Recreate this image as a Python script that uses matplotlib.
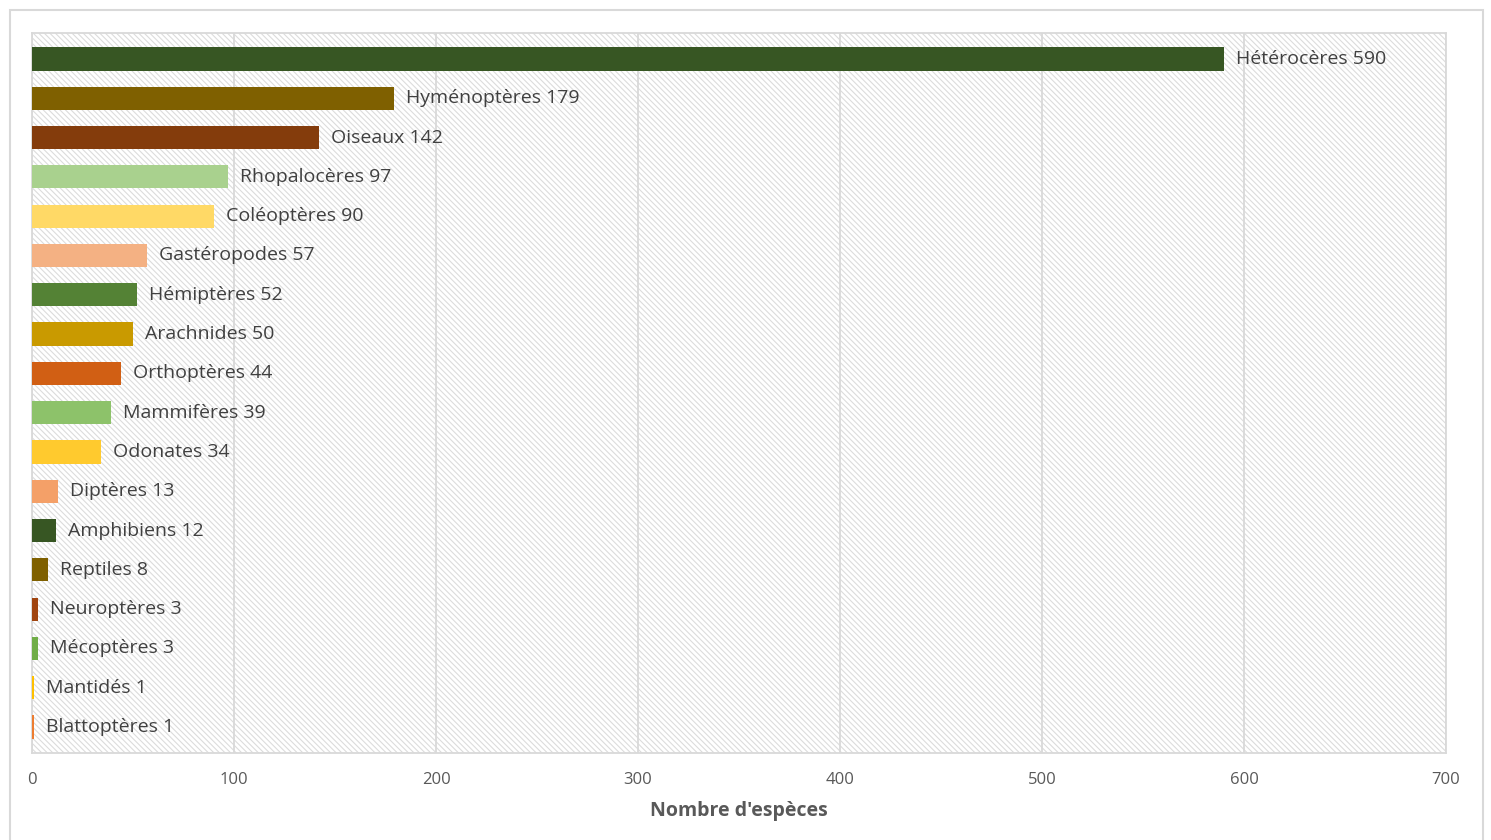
import matplotlib.pyplot as plt
from matplotlib.patches import Rectangle

plt.rcParams['font.family'] = ['Open Sans', 'DejaVu Sans']
plt.rcParams['hatch.color'] = '#dcdcdc'
plt.rcParams['hatch.linewidth'] = 0.8

# données
groupes = ["Hétérocères", "Hyménoptères", "Oiseaux", "Rhopalocères", "Coléoptères",
           "Gastéropodes", "Hémiptères", "Arachnides", "Orthoptères", "Mammifères",
           "Odonates", "Diptères", "Amphibiens", "Reptiles", "Neuroptères",
           "Mécoptères", "Mantidés", "Blattoptères"]
especes = [590, 179, 142, 97, 90, 57, 52, 50, 44, 39, 34, 13, 12, 8, 3, 3, 1, 1]
couleurs = ["#375623", "#7F6000", "#843C0C", "#A9D18E", "#FFD966", "#F4B183",
            "#548235", "#C99A00", "#D15F14", "#8DC26A", "#FFCA2E", "#F4A068",
            "#375623", "#7F6000", "#A0440F", "#70AD47", "#FFC000", "#ED7D31"]
ticks_x = [0, 100, 200, 300, 400, 500, 600, 700]

fig = plt.figure(figsize=(14.91, 8.4), dpi=100)
ax = fig.add_axes([0.0215, 0.1036, 0.9483, 0.8571])

# cadre extérieur
fig.patches.append(Rectangle((10 / 1491, -0.01), 1473 / 1491, 1 - 10 / 840 + 0.01,
                             transform=fig.transFigure, fill=False,
                             edgecolor='#d9d9d9', linewidth=1.5))

ax.patch.set_hatch('\\\\\\\\\\\\')
ax.patch.set_edgecolor('#dcdcdc')

y = list(range(len(groupes)))
ax.barh(y, especes, height=0.59, color=couleurs, edgecolor='none', zorder=3)
for yi, nom, v in zip(y, groupes, especes):
    ax.text(v + 6, yi, f"{nom} {v}", va='center', ha='left', fontsize=14, color='#404040', zorder=4)

ax.set_xlim(0, 700)
ax.set_ylim(len(groupes) - 1 + 0.66, -0.66)
ax.set_xticks(ticks_x)
ax.set_yticks([])
ax.tick_params(axis='x', length=0, labelsize=12, labelcolor='#595959', pad=14)
ax.grid(axis='x', color='#d9d9d9', linewidth=1.3, zorder=1)
ax.set_axisbelow(True)
for s in ax.spines.values():
    s.set_color('#d9d9d9')
    s.set_linewidth(1.3)

ax.set_xlabel("Nombre d'espèces", fontsize=14, fontweight='bold', color='#595959', labelpad=9)

fig.savefig('out.png', dpi=100)
